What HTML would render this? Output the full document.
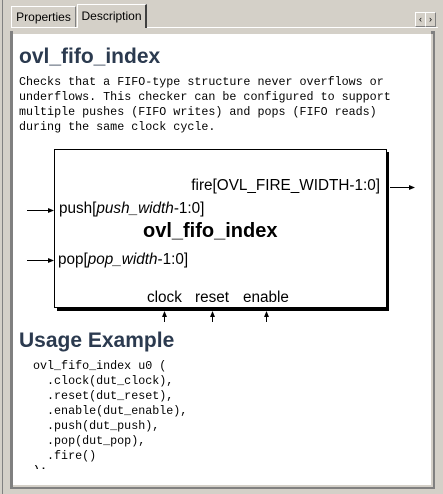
<!DOCTYPE html>
<html><head><style>
body{margin:0;width:443px;height:494px;background:#d4d0c8;position:relative;overflow:hidden;font-family:"Liberation Sans",sans-serif}
.a{position:absolute}
.mono{font-family:"Liberation Mono",monospace;font-size:11.7px;line-height:15px;color:#000;white-space:pre}
.h{font-weight:bold;font-size:21px;color:#2b3a4f}
.t{font-size:15.3px;color:#000;white-space:nowrap}
</style></head><body>
<div class="a" style="left:2px;top:0;width:1px;height:494px;background:#808080"></div>
<div class="a" style="left:11px;top:27px;width:427px;height:1px;background:#fff"></div>
<div class="a" style="left:11px;top:6px;width:63px;height:20px;border:1px solid #fff;border-bottom:none;border-right:1px solid #808080;font-size:12px;line-height:20px;text-align:center">Properties</div>
<div class="a" style="left:77px;top:4px;width:67px;height:23px;background:#d4d0c8;border-left:1px solid #fff;border-top:1px solid #fff;border-right:2px solid #404040;font-size:12px;line-height:22px;text-align:center">Description</div>
<div class="a" style="left:415px;top:12px;width:9px;height:13px;border:1px solid #fff;border-right-color:#808080;border-bottom-color:#808080;font-size:9px;line-height:13px;text-align:center">&lsaquo;</div>
<div class="a" style="left:425px;top:12px;width:9px;height:13px;border:1px solid #fff;border-right-color:#808080;border-bottom-color:#808080;font-size:9px;line-height:13px;text-align:center">&rsaquo;</div>
<div class="a" style="left:10px;top:31px;width:3px;height:456px;background:#808080"></div>
<div class="a" style="left:431px;top:31px;width:4px;height:458px;background:#808080"></div>
<div class="a" style="left:10px;top:485px;width:425px;height:4px;background:#808080"></div>
<div class="a" style="left:13px;top:34px;width:418px;height:451px;background:#fff"></div>
<div class="a" style="left:431px;top:34px;width:2px;height:453px;background:#d4d0c8"></div>
<div class="a" style="left:13px;top:485px;width:420px;height:2px;background:#d4d0c8"></div>

<div class="a h" style="left:19px;top:45px">ovl_fifo_index</div>
<div class="a mono" style="left:19px;top:75px">Checks that a FIFO-type structure never overflows or
underflows. This checker can be configured to support
multiple pushes (FIFO writes) and pops (FIFO reads)
during the same clock cycle.</div>

<div class="a" style="left:57px;top:152px;width:332px;height:159px;background:#000"></div>
<div class="a" style="left:54px;top:149px;width:331px;height:157px;background:#fff;border:1px solid #000"></div>
<div class="a t" style="right:63px;top:177px">fire[OVL_FIRE_WIDTH-1:0]</div>
<div class="a t" style="left:59px;top:200px">push[<i>push_width</i>-1:0]</div>
<div class="a t" style="left:143px;top:220px;font-weight:bold;font-size:20px">ovl_fifo_index</div>
<div class="a t" style="left:58px;top:251px">pop[<i>pop_width</i>-1:0]</div>
<div class="a t" style="left:147px;top:289px">clock</div>
<div class="a t" style="left:195px;top:289px">reset</div>
<div class="a t" style="left:243px;top:289px">enable</div>
<svg class="a" style="left:0;top:0" width="443" height="494">
<g stroke="#000" stroke-width="1" fill="#000">
<line x1="27" y1="210.5" x2="50" y2="210.5"/><polygon points="54,210.5 48,208 48,213" stroke="none"/>
<line x1="27" y1="260.5" x2="50" y2="260.5"/><polygon points="54,260.5 48,258 48,263" stroke="none"/>
<line x1="390" y1="187.5" x2="411" y2="187.5"/><polygon points="415,187.5 409,185 409,190" stroke="none"/>
<line x1="164.5" y1="322" x2="164.5" y2="315"/><polygon points="164.5,311 162,317 167,317" stroke="none"/>
<line x1="212.5" y1="322" x2="212.5" y2="315"/><polygon points="212.5,311 210,317 215,317" stroke="none"/>
<line x1="266.5" y1="322" x2="266.5" y2="315"/><polygon points="266.5,311 264,317 269,317" stroke="none"/>
</g></svg>

<div class="a h" style="left:19px;top:329px">Usage Example</div>
<div class="a mono" style="left:33px;top:359px">ovl_fifo_index u0 (
  .clock(dut_clock),
  .reset(dut_reset),
  .enable(dut_enable),
  .push(dut_push),
  .pop(dut_pop),
  .fire()
);</div>
<div class="a" style="left:13px;top:469px;width:418px;height:16px;background:#fff"></div>
<div class="a mono" style="left:33px;top:464px;height:5px;overflow:hidden">);</div>
</body></html>
